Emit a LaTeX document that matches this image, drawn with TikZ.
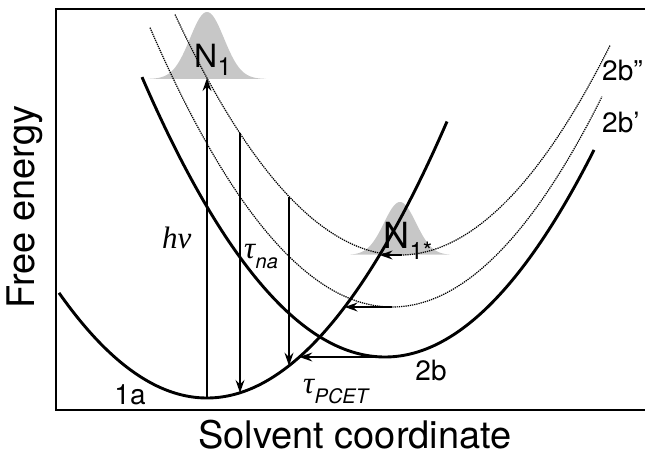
\documentclass[tikz,border=0pt]{standalone}
\usepackage{fontspec}
\setmainfont{TeX Gyre Heros}
\newfontfamily\grkfont{Liberation Serif}
\usetikzlibrary{arrows.meta}
\begin{document}
\begin{tikzpicture}[x=1pt,y=-1pt,
  curve/.style={line width=2.9pt},
  dcurve/.style={line width=1.2pt,dash pattern=on 1.3pt off 0.9pt},
  frame/.style={line width=1.5pt},
  arr/.style={line width=1.3pt,-{Stealth[length=13pt,width=9pt,inset=4.5pt]}},
  bell/.style={fill=black!22,draw=none},
  axlab/.style={font=\fontsize{38}{44}\selectfont,inner sep=0pt},
  lab/.style={font=\fontsize{28}{32}\selectfont,inner sep=0pt,anchor=base},
  nlab/.style={font=\fontsize{32}{36}\selectfont,inner sep=0pt,anchor=base west},
  glab/.style={font=\fontsize{31}{36}\selectfont\grkfont\itshape,inner sep=0pt,anchor=base west},
  sublab/.style={font=\fontsize{20}{22}\selectfont\itshape,inner sep=0pt,anchor=base west}]
\useasboundingbox (0,0) rectangle (645,455);
% population bells
\fill[bell] plot[domain=148:266,samples=90] (\x,{79-67*exp(-((\x-207)/17)^2/2)}) -- cycle;
\fill[bell] plot[domain=350:450,samples=90] (\x,{255-53*exp(-((\x-400)/16)^2/2)}) -- cycle;
% frame
\draw[frame] (645,9) -- (56,9) -- (56,410) -- (645,410);
% free energy curves
\draw[curve] plot[domain=59:447,samples=120] (\x,{398-48*((\x-207)/100)^2});
\draw[curve] plot[domain=142:594,samples=120] (\x,{357-47.4*((\x-385)/100)^2});
\draw[dcurve] plot[domain=150:602,samples=120] (\x,{307-47.7*((\x-392)/100)^2});
\draw[dcurve] plot[domain=175:610,samples=120] (\x,{255-47.5*((\x-400)/100)^2});
% arrow end points
\coordinate (hvb) at (207,398);
\coordinate (hvt) at (207,78.1);
\coordinate (t1t) at (240,133.4);
\coordinate (t1b) at (240,392.8);
\coordinate (t2t) at (289,196.5);
\coordinate (t2b) at (289,365.7);
\coordinate (h1s) at (402,255);
\coordinate (h1e) at (379.6,255);
\coordinate (h2s) at (392,307);
\coordinate (h2e) at (344.7,307);
\coordinate (h3s) at (385,357);
\coordinate (h3e) at (299.4,357);
\draw[arr] (hvb) -- (hvt);
\draw[arr] (t1t) -- (t1b);
\draw[arr] (t2t) -- (t2b);
\draw[arr] (h1s) -- (h1e);
\draw[arr] (h2s) -- (h2e);
\draw[arr] (h3s) -- (h3e);
% labels
\node[nlab] (n1) at (194,67) {N};
\node[nlab,font=\fontsize{25}{28}\selectfont] (n1sub) at (n1.base east) [yshift=-8pt] {1};
\node[nlab,font=\fontsize{36}{40}\selectfont] (n1s) at (383,248) {N};
\node[nlab,font=\fontsize{24}{28}\selectfont] (n1ssub) at (n1s.base east) [yshift=-11pt] {1*};
\node[glab] (hv) at (162,248) {hν};
\node[glab] (tna) at (244,258) {τ};
\node[sublab] (tnasub) at (tna.base east) [yshift=-10pt] {na};
\node[glab] (tpc) at (303,393) {τ};
\node[sublab] (tpcsub) at (tpc.base east) [yshift=-10pt] {PCET};
\node[lab] (l1a) at (130,404) {1a};
\node[lab] (l2b) at (431,380) {2b};
\node[lab,anchor=base west] (l2bp) at (602,132) {2b'};
\node[lab,anchor=base west] (l2bpp) at (602,80) {2b''};
\node[axlab,rotate=90,anchor=base] (ylab) at (34,207) {Free energy};
\node[axlab,anchor=base] (xlab) at (355,448) {Solvent coordinate};
\end{tikzpicture}
\end{document}
